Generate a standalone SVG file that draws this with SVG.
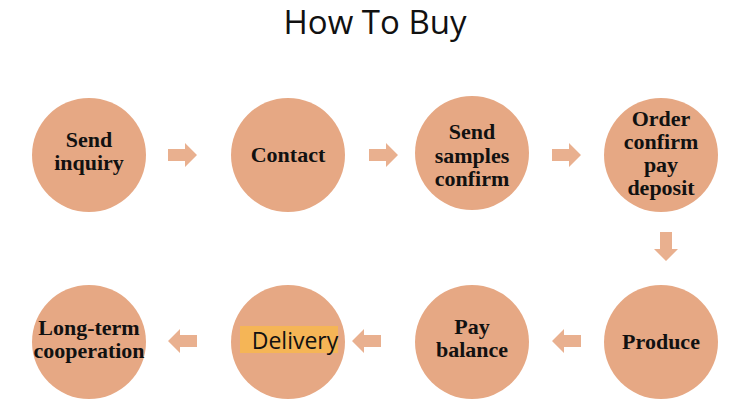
<svg xmlns="http://www.w3.org/2000/svg" width="750" height="400" viewBox="0 0 750 400">
<style>
.c{fill:#E6A884}
.a{fill:#E9B08F}
.t{font-family:"Liberation Serif",serif;font-weight:bold;font-size:22px;fill:#111;text-anchor:middle}
.title{font-family:"Open Sans","Noto Sans",sans-serif;font-size:33px;fill:#111;text-anchor:middle}
</style>
<defs>
<path id="ar" d="M-14,-6 H3 V-12 L15,0 L3,12 V6 H-14 Z"/>
</defs>
<rect width="750" height="400" fill="#fff"/>
<text class="title" x="375" y="34">How To Buy</text>
<g id="connectors">
<use href="#ar" class="a" transform="translate(182,155)"/>
<use href="#ar" class="a" transform="translate(383,155)"/>
<use href="#ar" class="a" transform="translate(566,155)"/>
<use href="#ar" class="a" transform="translate(666,246) rotate(90)"/>
<use href="#ar" class="a" transform="translate(567,341) rotate(180)"/>
<use href="#ar" class="a" transform="translate(367,341) rotate(180)"/>
<use href="#ar" class="a" transform="translate(183,341) rotate(180)"/>
</g>
<g id="n1"><circle class="c" cx="89" cy="155" r="57"/><text class="t" x="89" y="147">Send</text><text class="t" x="89" y="170">inquiry</text></g>
<g id="n2"><circle class="c" cx="288" cy="155" r="57"/><text class="t" x="288" y="162">Contact</text></g>
<g id="n3"><circle class="c" cx="472" cy="153" r="57"/><text class="t" x="472" y="139">Send</text><text class="t" x="472" y="163">samples</text><text class="t" x="472" y="186">confirm</text></g>
<g id="n4"><circle class="c" cx="661" cy="155" r="57"/><text class="t" x="661" y="126">Order</text><text class="t" x="661" y="149">confirm</text><text class="t" x="661" y="172">pay</text><text class="t" x="661" y="195">deposit</text></g>
<g id="n5"><circle class="c" cx="661" cy="342" r="57"/><text class="t" x="661" y="349">Produce</text></g>
<g id="n6"><circle class="c" cx="472" cy="342" r="57"/><text class="t" x="472" y="334">Pay</text><text class="t" x="472" y="357">balance</text></g>
<g id="n7"><circle class="c" cx="288" cy="342" r="57"/><rect x="240" y="326" width="98" height="27" fill="#F5B556"/><text x="295" y="349" font-family="'Open Sans','Noto Sans',sans-serif" font-size="23" fill="#111" text-anchor="middle">Delivery</text></g>
<g id="n8"><circle class="c" cx="89" cy="342" r="57"/><text class="t" x="89" y="335">Long-term</text><text class="t" x="89" y="358">cooperation</text></g>
</svg>
